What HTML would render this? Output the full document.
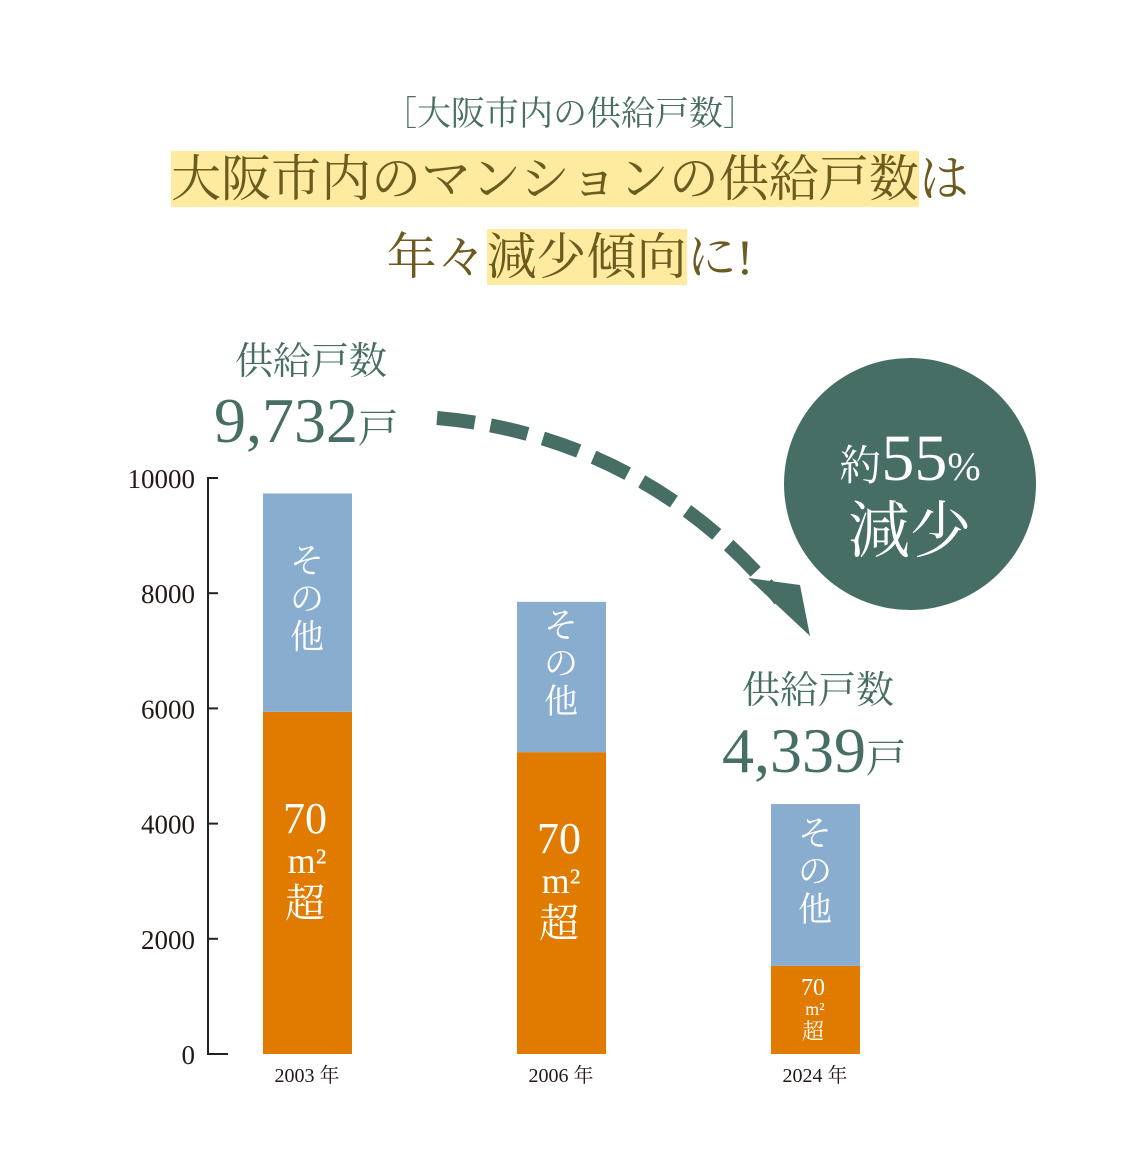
<!DOCTYPE html>
<html><head><meta charset="utf-8"><style>
body{margin:0;background:#fff;}
#wrap{position:relative;width:1140px;height:1170px;overflow:hidden;font-family:"Liberation Serif","Noto Serif CJK JP","Noto Serif CJK SC",serif;}
.t{position:absolute;white-space:nowrap;}
.hl{background:#feeba0;}
</style></head><body>
<div id="wrap">
<div class="t" style="left:0;width:1140px;text-align:center;top:86px;font-size:34px;color:#4a6e64;">［大阪市内の供給戸数］</div>
<div class="t" style="left:0;width:1140px;text-align:center;top:148px;font-size:50px;color:#6b5b1f;line-height:62px;"><span class="hl">大阪市内のマンションの供給戸数</span>は</div>
<div class="t" style="left:0;width:1140px;text-align:center;top:226px;font-size:50px;color:#6b5b1f;line-height:62px;">年々<span class="hl">減少傾向</span>に!</div>
<svg id="chart" width="1140" height="1170" style="position:absolute;left:0;top:0"></svg>
</div>
<script>
const categories=["2003 年","2006 年","2024 年"];
const large=[5940,5240,1530];
const other=[3792,2610,2809];
const yTicks=[0,2000,4000,6000,8000,10000];
const NS="http://www.w3.org/2000/svg";
const svg=document.getElementById('chart');
const y=v=>1054-v*0.0576;
const xc=i=>307+i*254;
function mk(t,a,txt){const e=document.createElementNS(NS,t);for(const k in a)e.setAttribute(k,a[k]);if(txt!==undefined)e.textContent=txt;svg.appendChild(e);return e;}
const F='"Liberation Serif","Noto Serif CJK JP",serif';
let ax=mk('line',{x1:208,y1:y(10000),x2:208,y2:y(0),stroke:'#222','stroke-width':2});

yTicks.forEach(v=>{
 let l=mk('line',{x1:207,x2:v===0?228:218,y1:y(v),y2:y(v),stroke:'#222','stroke-width':2});
 
 let t=mk('text',{x:195,y:y(v)+10,'text-anchor':'end','font-size':27,fill:'#231815','font-family':F},String(v));
 
});
categories.forEach((c,i)=>{
 const x0=xc(i)-44,w=89;
 let b1=mk('rect',{x:x0,y:y(large[i]),width:w,height:y(0)-y(large[i]),fill:'#e07b00'});
 
 let b2=mk('rect',{x:x0,y:y(large[i]+other[i]),width:w,height:y(large[i])-y(large[i]+other[i]),fill:'#89adcf'});
 
 let t=mk('text',{x:xc(i),y:1082,'text-anchor':'middle','font-size':20,fill:'#231815','font-family':F},c);
 
 const big=i<2;
 const oc=(y(large[i])+y(large[i]+other[i]))/2;
 ['そ','の','他'].forEach((ch,k)=>{
  let s=mk('text',{x:xc(i),y:oc-30+k*38+(i==0?0:-10),'text-anchor':'middle','font-size':34,fill:'#fff','font-family':F},ch);
  
 });
 const lc=(y(0)+y(large[i]))/2;
 const fs=big?[44,36,40]:[24,18,22], gap=big?[0,40,84]:[0,20,44];
 const base=big?lc-50:lc-15;
 ['70','m²','超'].forEach((ch,k)=>{
  let s=mk('text',{x:xc(i)-(k==1?0:2),y:base+gap[k],'text-anchor':'middle','font-size':fs[k],fill:'#fff','font-family':F},ch);
  
 });
});
function lbl(x,yy,sz,txt,name){let t=mk('text',{x:x,y:yy,'text-anchor':'middle','font-size':sz,fill:'#466e64','font-family':F},txt);return t;}
lbl(311,374,38,'供給戸数','total-label-2003');
let a=lbl(306,442,64,'9,732','total-2003');let sp=document.createElementNS(NS,'tspan');sp.setAttribute('font-size',40);sp.textContent='戸';a.appendChild(sp);
lbl(818,703,38,'供給戸数','total-label-2024');
let b=lbl(814,772,64,'4,339','total-2024');let sp2=document.createElementNS(NS,'tspan');sp2.setAttribute('font-size',40);sp2.textContent='戸';b.appendChild(sp2);
let arr=mk('path',{d:'M437,418 C580,430 700,500 780,600',fill:'none',stroke:'#466e64','stroke-width':14,'stroke-dasharray':'38 16'});

let head=mk('path',{d:'M748,578 L810,636 L800,585 Z',fill:'#466e64'});

let c=mk('circle',{cx:910,cy:484,r:126,fill:'#466e64'});

let t1=mk('text',{x:910,y:480,'text-anchor':'middle','font-size':42,fill:'#fff','font-family':F});

t1.innerHTML='約<tspan font-size="66">55</tspan><tspan font-size="40">%</tspan>';
let t2=mk('text',{x:910,y:552,'text-anchor':'middle','font-size':62,fill:'#fff','font-family':F},'減少');

</script>
</body></html>
